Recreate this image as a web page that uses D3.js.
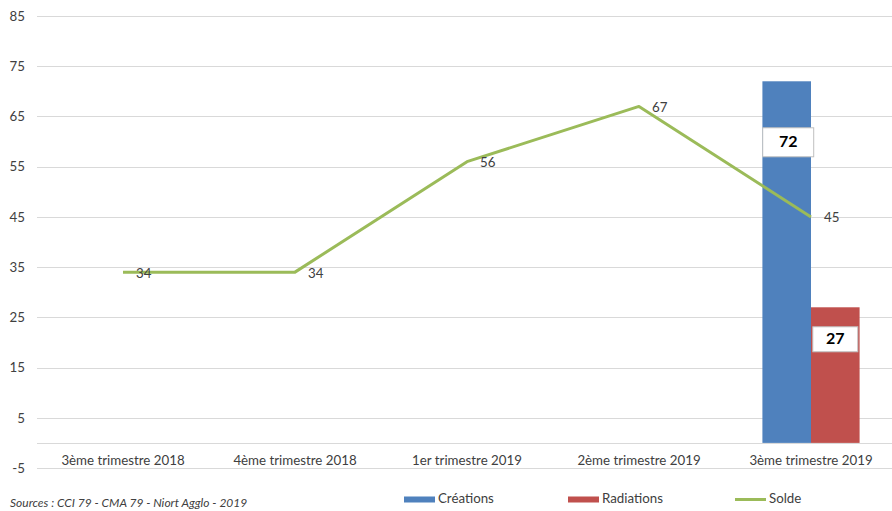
<!DOCTYPE html>
<html>
<head>
<meta charset="utf-8">
<script src="https://cdn.jsdelivr.net/npm/d3@7"></script>
<style>
  html, body { margin: 0; padding: 0; background: #fff; }
  svg { display: block; font-family: Lato, "Liberation Sans", sans-serif; }
</style>
</head>
<body>
<svg id="chart" width="892" height="511"></svg>
<script>
// ---- data ----
const categories = ["3ème trimestre 2018", "4ème trimestre 2018", "1er trimestre 2019", "2ème trimestre 2019", "3ème trimestre 2019"];
const creations  = [null, null, null, null, 72];
const radiations = [null, null, null, null, 27];
const solde      = [34, 34, 56, 67, 45];
const yTicks     = [85, 75, 65, 55, 45, 35, 25, 15, 5, -5];
const seriesNames = ["Créations", "Radiations", "Solde"];
const sourceText = "Sources : CCI 79 - CMA 79 - Niort Agglo - 2019";

// ---- styles ----
const colors = { "Créations": "#4f81bd", "Radiations": "#c0504d", "Solde": "#9bbb59" };
const gridColor = "#d9d9d9";
const textColor = "#404040";

const svg = d3.select("#chart");
const plot = { left: 37, right: 897, top: 16, bottom: 468 };

const y = d3.scaleLinear().domain([-5, 85]).range([plot.bottom, plot.top]);
const x = d3.scaleBand().domain(categories).range([plot.left, plot.right]).padding(0);
const groupW = x.bandwidth() * 0.565;
const xSub = d3.scaleBand().domain(["Créations", "Radiations"]).range([0, groupW]).padding(0);
const barStart = c => x(c) + (x.bandwidth() - groupW) / 2;
const cx = c => x(c) + x.bandwidth() / 2;

// gridlines
svg.append("g").selectAll("line").data(yTicks).join("line")
  .attr("x1", plot.left).attr("x2", plot.right)
  .attr("y1", d => Math.round(y(d)) + 0.5).attr("y2", d => Math.round(y(d)) + 0.5)
  .attr("stroke", gridColor).attr("stroke-width", 1);

// zero axis line
svg.append("line")
  .attr("x1", plot.left).attr("x2", plot.right)
  .attr("y1", Math.round(y(0)) + 0.5).attr("y2", Math.round(y(0)) + 0.5)
  .attr("stroke", gridColor).attr("stroke-width", 1);

// y axis labels
const yAxis = d3.axisLeft(y).tickValues(yTicks).tickSize(0).tickPadding(0)
  .tickFormat(d => String(d));
const yg = svg.append("g").attr("transform", `translate(${plot.left - 12},0)`).call(yAxis);
yg.select(".domain").remove();
yg.selectAll("text").attr("font-size", 13.3).attr("fill", textColor)
  .attr("font-family", "Lato, sans-serif");

// x axis labels
const xAxis = d3.axisBottom(x).tickSize(0).tickPadding(0);
const xg = svg.append("g").attr("transform", `translate(0,${y(0) + 13})`).call(xAxis);
xg.select(".domain").remove();
xg.selectAll("text").attr("font-size", 13.3).attr("fill", textColor)
  .attr("font-family", "Lato, sans-serif");

// bars
const barData = [];
categories.forEach((c, i) => {
  if (creations[i] != null) barData.push({ cat: c, s: "Créations", v: creations[i] });
  if (radiations[i] != null) barData.push({ cat: c, s: "Radiations", v: radiations[i] });
});
svg.append("g").selectAll("rect").data(barData).join("rect")
  .attr("x", d => barStart(d.cat) + xSub(d.s))
  .attr("width", xSub.bandwidth())
  .attr("y", d => y(d.v))
  .attr("height", d => y(0) - y(d.v))
  .attr("fill", d => colors[d.s]);

// line
const lineData = categories.map((c, i) => ({ cat: c, v: solde[i] }));
svg.append("path").datum(lineData)
  .attr("fill", "none").attr("stroke", colors["Solde"]).attr("stroke-width", 3)
  .attr("stroke-linejoin", "round")
  .attr("d", d3.line().x(d => cx(d.cat)).y(d => y(d.v)));

// line labels
svg.append("g").selectAll("text").data(lineData).join("text")
  .attr("x", d => cx(d.cat) + 13)
  .attr("y", d => y(d.v) + 2)
  .attr("dominant-baseline", "middle")
  .attr("font-size", 13.3).attr("fill", textColor)
  .text(d => d.v);

// bar labels (white boxes)
const labelOffset = { "Créations": 61, "Radiations": 32 };
const labelBoxW = { "Créations": 51, "Radiations": 45 };
const labelBoxH = { "Créations": 29, "Radiations": 25 };
const bl = svg.append("g").selectAll("g").data(barData).join("g")
  .attr("transform", d => `translate(${barStart(d.cat) + xSub(d.s) + xSub.bandwidth() / 2 + (d.s === "Créations" ? 1.5 : 0)},${y(d.v) + labelOffset[d.s]})`);
bl.append("rect")
  .attr("x", d => -labelBoxW[d.s] / 2).attr("y", d => -labelBoxH[d.s] / 2)
  .attr("width", d => labelBoxW[d.s]).attr("height", d => labelBoxH[d.s])
  .attr("fill", "#fff").attr("stroke", "#bfbfbf").attr("stroke-width", 1);
bl.append("text")
  .attr("text-anchor", "middle").attr("dominant-baseline", "middle")
  .attr("y", 1)
  .attr("font-size", 16).attr("font-weight", "bold").attr("fill", "#000")
  .text(d => d.v);

// legend
const legendX = { "Créations": 404, "Radiations": 568, "Solde": 735 };
const lg = svg.append("g").selectAll("g").data(seriesNames).join("g")
  .attr("transform", d => `translate(${legendX[d]},499)`);
lg.each(function(d) {
  const g = d3.select(this);
  if (d === "Solde") {
    g.append("line").attr("x1", 0).attr("x2", 31).attr("y1", 0.5).attr("y2", 0.5)
      .attr("stroke", colors[d]).attr("stroke-width", 3);
  } else {
    g.append("rect").attr("x", 0).attr("y", -2.5).attr("width", 31).attr("height", 6)
      .attr("fill", colors[d]);
  }
  g.append("text").attr("x", 34).attr("y", 1).attr("dominant-baseline", "middle")
    .attr("font-size", 13.3).attr("fill", textColor).text(d);
});

// source
svg.append("text").attr("x", 10).attr("y", 507)
  .attr("font-size", 12).attr("font-style", "italic").attr("fill", textColor)
  .text(sourceText);
</script>
</body>
</html>
